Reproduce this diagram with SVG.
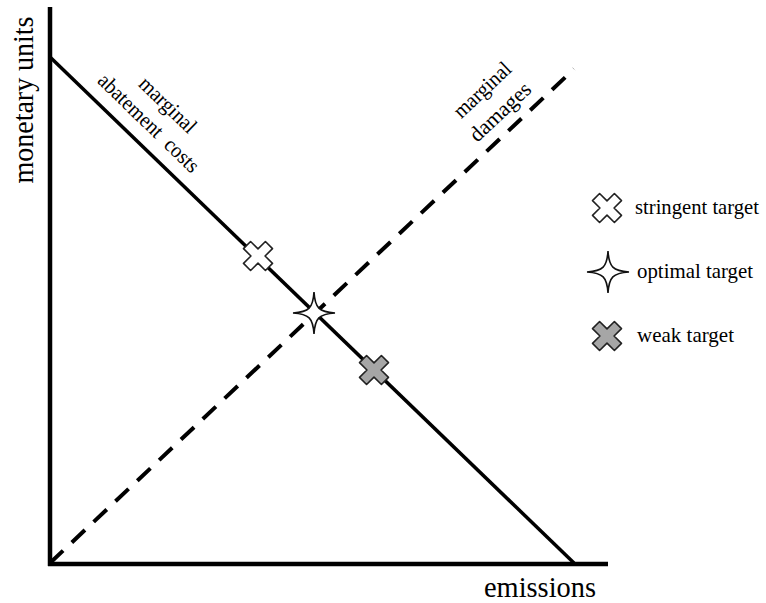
<svg xmlns="http://www.w3.org/2000/svg" width="766" height="603" viewBox="0 0 766 603" font-family="Liberation Serif">
<style>
.axis{stroke:#000;stroke-width:4.5;fill:none}
.mac{stroke:#000;stroke-width:3.5;fill:none}
.md{stroke:#000;stroke-width:4;fill:none;stroke-dasharray:18 12}
.cross{stroke:#222;stroke-width:1.6;stroke-linejoin:round}
.white{fill:#fff}
.gray{fill:#a6a6a6}
.star{fill:#fff;stroke:#111;stroke-width:1.6;stroke-linejoin:miter}
.lbl{font-size:21.5px}
.leg{font-size:22px}
</style>
<defs>
<path id="x" d="M5,-15.5 L5,-5 L15.5,-5 L15.5,5 L5,5 L5,15.5 L-5,15.5 L-5,5 L-15.5,5 L-15.5,-5 L-5,-5 L-5,-15.5 Z" transform="rotate(45)"/>
<path id="st" d="M0,-21 C1,-5 5,-1 21,0 C5,1 1,5 0,21 C-1,5 -5,1 -21,0 C-5,-1 -1,-5 0,-21 Z"/>
</defs>
<g id="axes">
<line class="axis" x1="50" y1="7" x2="50" y2="566"/>
<line class="axis" x1="48" y1="564" x2="608" y2="564"/>
<text font-family="Liberation Serif" font-size="30" text-anchor="middle" textLength="167" lengthAdjust="spacingAndGlyphs" transform="translate(33,100) rotate(-90)">monetary units</text>
<text font-family="Liberation Serif" x="484" y="597" font-size="30" textLength="112" lengthAdjust="spacingAndGlyphs">emissions</text>
</g>
<g id="connectors">
<line id="mac" class="mac" x1="50" y1="57" x2="574" y2="563"/>
<line id="md" class="md" x1="50" y1="563" x2="574" y2="69"/>
</g>
<g id="mac-label" font-family="Liberation Serif">
<text class="lbl" text-anchor="middle" textLength="71" lengthAdjust="spacingAndGlyphs" transform="translate(163,110) rotate(44.1)">marginal</text>
<text class="lbl" text-anchor="middle" textLength="132" lengthAdjust="spacingAndGlyphs" transform="translate(144,128) rotate(44.1)" xml:space="preserve">abatement  costs</text>
</g>
<g id="md-label" font-family="Liberation Serif">
<text class="lbl" text-anchor="middle" textLength="71" lengthAdjust="spacingAndGlyphs" transform="translate(487,95) rotate(-43.3)">marginal</text>
<text class="lbl" text-anchor="middle" textLength="76" lengthAdjust="spacingAndGlyphs" transform="translate(505,117) rotate(-43.3)">damages</text>
</g>
<g id="stringent">
<use href="#x" class="cross white" transform="translate(258,256)"/>
</g>
<g id="optimal">
<use href="#st" class="star" transform="translate(314,313)"/>
</g>
<g id="weak">
<use href="#x" class="cross gray" transform="translate(374,370)"/>
</g>
<g id="legend" font-family="Liberation Serif">
<g id="legend-stringent">
<use href="#x" class="cross white" transform="translate(607,208)"/>
<text x="635" y="214" font-size="21" textLength="124" lengthAdjust="spacingAndGlyphs">stringent target</text>
</g>
<g id="legend-optimal">
<use href="#st" class="star" transform="translate(608,272)"/>
<text class="leg" x="637" y="278" textLength="116" lengthAdjust="spacingAndGlyphs">optimal target</text>
</g>
<g id="legend-weak">
<use href="#x" class="cross gray" transform="translate(607,336)"/>
<text class="leg" x="637" y="342" textLength="97" lengthAdjust="spacingAndGlyphs">weak target</text>
</g>
</g>
</svg>
